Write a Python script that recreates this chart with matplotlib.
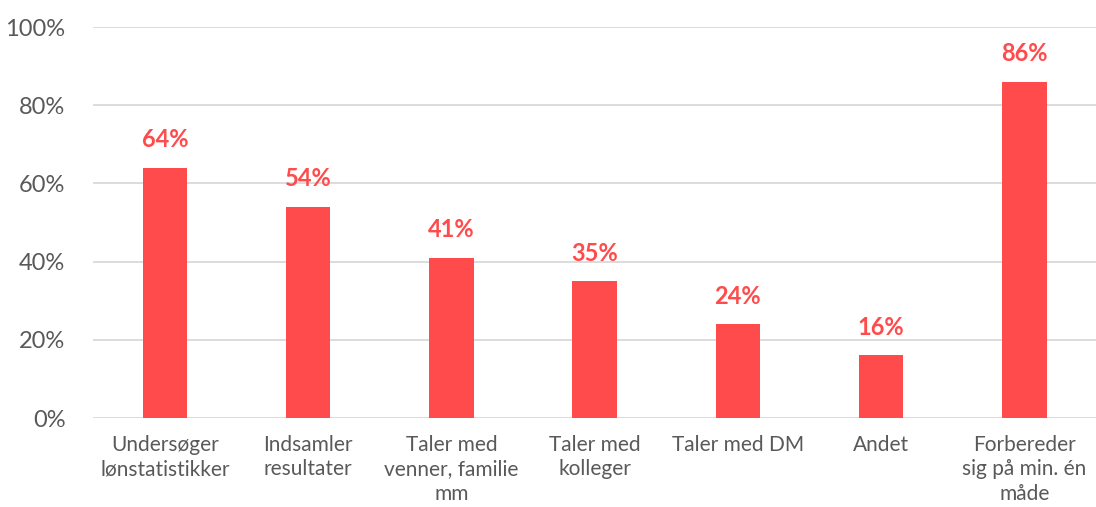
import matplotlib.pyplot as plt
from matplotlib.ticker import FuncFormatter

plt.rcParams['font.family'] = ['Lato', 'DejaVu Sans']

categories = ['Undersøger\nlønstatistikker', 'Indsamler\nresultater', 'Taler med\nvenner, familie\nmm',
              'Taler med\nkolleger', 'Taler med DM', 'Andet', 'Forbereder\nsig på min. én\nmåde']
values = [64, 54, 41, 35, 24, 16, 86]

red = '#FF4B4B'
grey_text = '#595959'

fig = plt.figure(figsize=(10.96, 5.07), dpi=100)
ax = fig.add_axes([0.085, 0.1755, 0.915, 0.7712])

x = range(len(categories))
ax.bar(x, values, width=0.31, color=red, zorder=3)
for i, v in zip(x, values):
    ax.text(i, v + 4.2, f'{v}%', ha='center', va='bottom', color=red,
            fontsize=17, fontweight='bold')

ax.set_xlim(-0.5, len(categories) - 0.5)
ax.set_ylim(0, 100)
ax.set_yticks(range(0, 101, 20))
ax.yaxis.set_major_formatter(FuncFormatter(lambda v, p: f'{v:.0f}%'))
ax.set_xticks(list(x))
ax.set_xticklabels(categories, linespacing=1.3)
ax.grid(axis='y', color='#D9D9D9', linewidth=1.3, zorder=0)
ax.tick_params(axis='y', length=0, pad=20, labelsize=17, labelcolor=grey_text)
ax.tick_params(axis='x', length=0, pad=12, labelsize=15, labelcolor=grey_text)
for s in ax.spines.values():
    s.set_visible(False)

fig.savefig('out.png', dpi=100)
